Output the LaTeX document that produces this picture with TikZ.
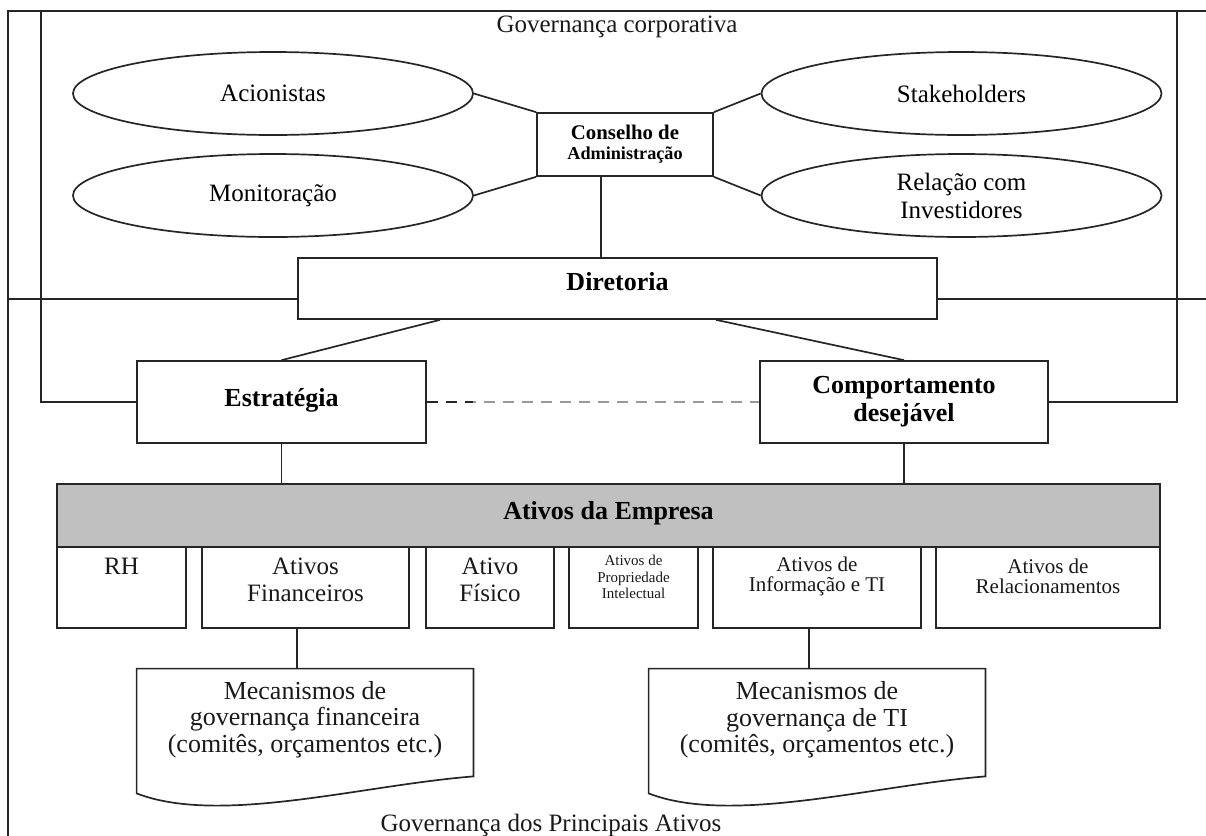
\documentclass[tikz,border=0pt]{standalone}
\usepackage{fontspec}
\setmainfont{Liberation Serif}
\usetikzlibrary{shapes.geometric,calc}
\definecolor{linec}{HTML}{262626}
\definecolor{grayfill}{HTML}{C0C0C0}
\newcommand\myN{\fontsize{12.5pt}{14pt}\selectfont}
\newcommand\myB{\fontsize{13pt}{14pt}\selectfont\bfseries}
\newcommand\mySub{\fontsize{12.5pt}{13.5pt}\selectfont}
\newcommand\mySmall{\fontsize{10.5pt}{10pt}\selectfont}
\newcommand\myTiny{\fontsize{7.5pt}{8.25pt}\selectfont}
\newcommand\myDoc{\fontsize{13pt}{13.25pt}\selectfont}
\begin{document}
\begin{tikzpicture}[x=0.5pt,y=-0.5pt,
  line/.style={draw=linec, line width=0.85pt},
  ell/.style={ellipse, draw=linec, line width=0.85pt, minimum width=200pt, minimum height=41.5pt, inner sep=0pt, font=\myN, align=center},
  box/.style={rectangle, draw=linec, line width=0.85pt, inner sep=0pt, align=center},
  txt/.style={inner sep=0pt, align=center, text=black!90},
  docbox/.style={rectangle, inner sep=0pt, minimum width=168pt, minimum height=62pt},
  dashline/.style={line width=0.85pt, dash pattern=on 5.5pt off 4pt}
]
\useasboundingbox (0,0) rectangle (1206,836);

% outer frame lines
\coordinate (o1) at (8,836);
\coordinate (o2) at (8,11);
\coordinate (o3) at (1206,11);
\coordinate (tl) at (41,11);
\coordinate (tr) at (1177,11);
\coordinate (m1) at (8,299);
\coordinate (m2) at (1206,299);

% top texts
\node[txt, font=\myN] (gc) at (617,27) {Governança corporativa};

% ellipses
\node[ell] (acion) at (273,93.5) {Acionistas};
\node[ell] (mon) at (273,195.5) {Monitoração};
\node[ell] (stake) at (961.5,93.5) {Stakeholders};
\node[ell] (rel) at (961.5,195.5) {Relação com\\Investidores};

% conselho
\node[box, minimum width=88pt, minimum height=31.5pt, font=\fontsize{10.4pt}{10pt}\selectfont\bfseries] (cons) at (625,144.5) {Conselho de\\{\fontsize{9.1pt}{10pt}\selectfont Administração}};

% diretoria
\node[box, fill=white, minimum width=319.5pt, minimum height=30.5pt, font=\myB, text depth=7.5pt] (dir) at (617.5,288.5) {Diretoria};

% estrategia / comportamento
\node[box, minimum width=144.5pt, minimum height=41pt, font=\myB, text depth=5pt] (estr) at (281.5,402) {Estratégia};
\node[box, minimum width=144pt, minimum height=41pt, font=\myB] (comp) at (904,402) {Comportamento\\desejável};

% ativos da empresa
\node[box, fill=grayfill, minimum width=551.5pt, minimum height=31.5pt, font=\myB, text depth=5.5pt] (ativos) at (608.5,515.5) {Ativos da Empresa};

% sub boxes
\node[box, minimum width=64.5pt, minimum height=40.5pt] (rh) at (121.5,587.5) {};
\node[box, minimum width=103.5pt, minimum height=40.5pt] (fin) at (305.5,587.5) {};
\node[box, minimum width=64pt, minimum height=40.5pt] (fis) at (490,587.5) {};
\node[box, minimum width=64.5pt, minimum height=40.5pt] (prop) at (633.5,587.5) {};
\node[box, minimum width=104pt, minimum height=40.5pt] (inf) at (817,587.5) {};
\node[box, minimum width=112pt, minimum height=40.5pt] (relac) at (1048,587.5) {};

\node[txt, font=\mySub] (rhT) at (121.5,566) {RH};
\node[txt, font=\mySub] (finT) at (305.5,580) {Ativos\\Financeiros};
\node[txt, font=\mySub] (fisT) at (490,580) {Ativo\\Físico};
\node[txt, font=\myTiny] (propT) at (633.5,577) {Ativos de\\Propriedade\\Intelectual};
\node[txt, font=\mySmall] (infT) at (817,576) {Ativos de\\Informação e TI};
\node[txt, font=\mySmall] (relT) at (1048,576) {Ativos de\\Relacionamentos};

% documents
\node[docbox] (docL) at (305,731) {};
\node[docbox] (docR) at (817,731) {};
\draw[line] (docL.north west) -- (docL.north east) -- ($(docL.south east)+(0,-17)$) .. controls +(-113,9) and +(83,32) .. (docL.south west) -- cycle;
\draw[line] (docR.north west) -- (docR.north east) -- ($(docR.south east)+(0,-17)$) .. controls +(-113,9) and +(83,32) .. (docR.south west) -- cycle;
\node[txt, font=\myDoc] (docLT) at (305,719.5) {Mecanismos de\\governança financeira\\(comitês, orçamentos etc.)};
\node[txt, font=\myDoc] (docRT) at (817,720) {Mecanismos de\\governança de TI\\(comitês, orçamentos etc.)};

\node[txt, font=\myN] (gpa) at (551,825) {Governança dos Principais Ativos};

% frame lines
\draw[line] (o1) -- (o2) -- (o3);
\draw[line] (m1) -- (m1 -| dir.west);
\draw[line] (dir.east |- m2) -- (m2);
\draw[line] (tl) |- (estr.west);
\draw[line] (comp.east) -| (tr);

% connectors
\draw[line] (acion.east) -- (cons.north west);
\draw[line] (mon.east) -- (cons.south west);
\draw[line] (stake.west) -- (cons.north east);
\draw[line] (rel.west) -- (cons.south east);
\coordinate (c1) at ($(cons.south)+(-24,0)$);
\draw[line] (c1) -- (c1 |- dir.north);
\coordinate (d1) at ($(dir.south)+(-177.5,0)$);
\coordinate (d2) at ($(dir.south)+(98.5,0)$);
\draw[line] (d1) -- (estr.north);
\draw[line] (d2) -- (comp.north);
\draw[dashline, draw=black!40] (estr.east) -- (comp.west);
\coordinate (e1) at ($(estr.east)+(46,0)$);
\draw[dashline, draw=linec] (estr.east) -- (e1);
\draw[line] (estr.south) -- (estr.south |- ativos.north);
\draw[line] (comp.south) -- (comp.south |- ativos.north);
\coordinate (f1) at ($(fin.south)+(-8.5,0)$);
\draw[line] (f1) -- (f1 |- docL.north);
\coordinate (i1) at ($(inf.south)+(-8,0)$);
\draw[line] (i1) -- (i1 |- docR.north);
\end{tikzpicture}
\end{document}
